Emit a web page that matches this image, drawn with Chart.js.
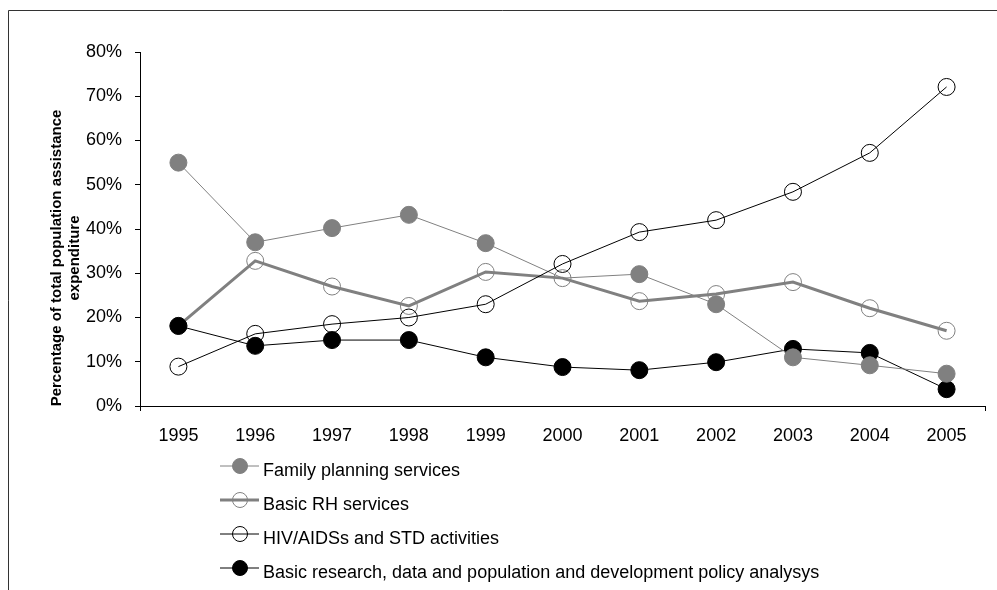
<!DOCTYPE html>
<html><head><meta charset="utf-8">
<script src="https://cdn.jsdelivr.net/npm/chart.js@4/dist/chart.umd.min.js"></script>
<style>html,body{margin:0;padding:0;background:#fff;overflow:hidden}canvas{display:block}</style>
</head><body><canvas id="c" width="997" height="590"></canvas>
<script>
const years = ['1995','1996','1997','1998','1999','2000','2001','2002','2003','2004','2005'];
const familyPlanning = [55, 37, 40.2, 43.2, 36.8, 28.9, 29.8, 23, 11, 9.2, 7.3];
const basicRH = [18.1, 32.8, 27, 22.6, 30.3, 28.9, 23.7, 25.3, 28, 22.1, 17];
const hivAids = [8.9, 16.3, 18.5, 20, 23, 32.1, 39.3, 42, 48.4, 57.2, 72.1];
const basicResearch = [18.1, 13.6, 14.9, 14.9, 11, 8.8, 8.1, 9.9, 12.9, 12, 3.8];
const yTickValues = [0, 10, 20, 30, 40, 50, 60, 70, 80];
const seriesNames = ['Family planning services', 'Basic RH services', 'HIV/AIDSs and STD activities', 'Basic research, data and population and development policy analysys'];
const yTitleLines = ['Percentage of total population assistance', 'expenditure'];

const FONT = "'Liberation Sans', Arial, sans-serif";
const GRAY = '#808080';
const R = 8.5;

const decor = {
  id: 'decor',
  beforeDraw(chart) {
    const c = chart.ctx;
    c.save();
    c.strokeStyle = '#333';
    c.lineWidth = 1;
    c.beginPath();
    c.moveTo(8.5, 590); c.lineTo(8.5, 10.5); c.lineTo(997, 10.5);
    c.stroke();
    c.restore();
  },
  afterDraw(chart) {
    const c = chart.ctx;
    // y title
    c.save();
    c.fillStyle = '#000';
    c.font = 'bold 15px ' + FONT;
    c.textAlign = 'center';
    c.textBaseline = 'alphabetic';
    const xs = [61, 79];
    yTitleLines.forEach((t, i) => {
      c.save();
      c.translate(xs[i], 258);
      c.rotate(-Math.PI / 2);
      c.fillText(t, 0, 0);
      c.restore();
    });
    c.restore();
    // legend
    const rows = [466, 500, 534, 568];
    chart.data.datasets.forEach((ds, i) => {
      const y = rows[i];
      c.save();
      c.strokeStyle = ds.borderColor;
      c.lineWidth = ds.borderWidth;
      c.beginPath();
      c.moveTo(220, y); c.lineTo(259, y);
      c.stroke();
      c.beginPath();
      c.arc(240, y, 7.5, 0, Math.PI * 2);
      c.fillStyle = ds.pointBackgroundColor;
      c.fill();
      c.lineWidth = 1;
      c.strokeStyle = ds.pointBorderColor;
      c.stroke();
      c.fillStyle = '#000';
      c.font = '18px ' + FONT;
      c.textAlign = 'left';
      c.textBaseline = 'alphabetic';
      c.fillText(ds.label, 263, y + 10);
      c.restore();
    });
  }
};

new Chart(document.getElementById('c'), {
  type: 'line',
  data: {
    labels: years,
    datasets: [
      { label: seriesNames[0], data: familyPlanning, borderColor: GRAY, borderWidth: 1,
        pointBackgroundColor: GRAY, pointBorderColor: GRAY, pointBorderWidth: 1,
        pointRadius: ctx => ctx.dataIndex === 5 ? 0 : R, order: 2 },
      { label: seriesNames[1], data: basicRH, borderColor: GRAY, borderWidth: 3,
        pointBackgroundColor: 'rgba(0,0,0,0)', pointBorderColor: GRAY, pointBorderWidth: 1,
        pointRadius: R, order: 4 },
      { label: seriesNames[2], data: hivAids, borderColor: '#000', borderWidth: 1,
        pointBackgroundColor: 'rgba(0,0,0,0)', pointBorderColor: '#000', pointBorderWidth: 1,
        pointRadius: R, order: 1 },
      { label: seriesNames[3], data: basicResearch, borderColor: '#000', borderWidth: 1,
        pointBackgroundColor: '#000', pointBorderColor: '#000', pointBorderWidth: 1,
        pointRadius: R, order: 3 }
    ]
  },
  options: {
    responsive: false,
    animation: false,
    events: [],
    layout: { padding: { top: 52, right: 12, bottom: 134, left: 0 } },
    plugins: { legend: { display: false }, tooltip: { enabled: false } },
    elements: { line: { tension: 0 } },
    scales: {
      x: {
        offset: true,
        grid: { offset: true, drawOnChartArea: false, drawTicks: true, tickLength: 5,
          color: c => (c.type === 'scale' || c.index === 0) ? '#000' : 'rgba(0,0,0,0)' },
        border: { display: true, color: '#000', width: 1 },
        ticks: { color: '#000', font: { family: FONT, size: 18 }, padding: 14, maxRotation: 0, autoSkip: false },
        afterFit: s => { s.height = 50; }
      },
      y: {
        min: 0, max: 80,
        afterBuildTicks: s => { s.ticks = yTickValues.map(v => ({ value: v })); },
        ticks: { color: '#000', font: { family: FONT, size: 18 }, padding: 13, callback: v => v + '%' },
        grid: { drawOnChartArea: false, tickLength: 5, color: '#000' },
        border: { display: true, color: '#000', width: 1 },
        afterFit: s => { s.width = 140; }
      }
    }
  },
  plugins: [decor]
});
</script>
</body></html>
